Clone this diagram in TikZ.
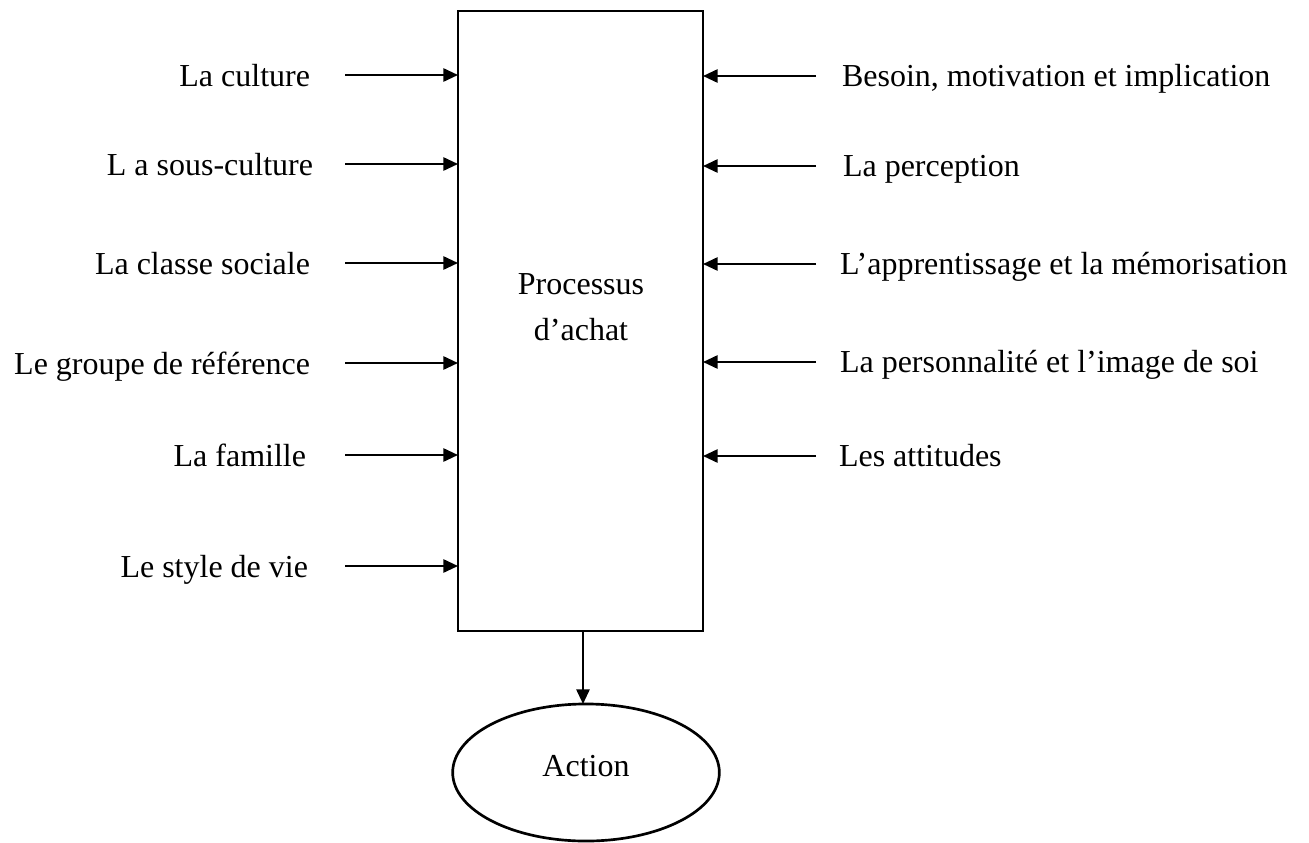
\documentclass[tikz,border=0pt]{standalone}
\usepackage{fontspec}
\setmainfont{Liberation Serif}
\usetikzlibrary{arrows.meta,shapes.geometric}

\begin{document}
\begin{tikzpicture}[x=0.375pt,y=-0.375pt,
  every node/.style={inner sep=0pt,outer sep=0pt,font=\fontsize{12pt}{17.25pt}\selectfont},
  arr/.style={line width=0.7pt,-{Triangle[length=5.5pt,width=5pt]}},
  lefttxt/.style={anchor=base east},
  righttxt/.style={anchor=base west},
  procbox/.style={draw,line width=1pt,rectangle,minimum width=91.9pt,minimum height=232.5pt},
  actell/.style={draw,line width=1pt,ellipse,minimum width=100pt,minimum height=51.4pt,
                 text height=8pt,text depth=5pt}]

  \useasboundingbox (0,0) rectangle (1309,842);

  % central process box and its caption
  \node[procbox] (box) at (580.5,321) {};
  \node[align=center] (proc) at (581,307.5) {Processus\\d’achat};

  % outcome
  \node[actell] (act) at (586,772.5) {Action};
  \coordinate (dtop) at (583,631);
  \draw[arr] (dtop) -- (dtop |- act.north);

  % external influences (left side)
  \foreach \n/\y/\xr/\t in {l1/75/310/La culture,
                             l2/164/313/L a sous-culture,
                             l3/263/310/La classe sociale,
                             l4/363/310/Le groupe de référence,
                             l5/455/306/La famille,
                             l6/566/308/Le style de vie}{
    \node[lefttxt] (\n) at (\xr,\y+11) {\t};
    \coordinate (\n t) at (345,\y);
    \draw[arr] (\n t) -- (\n t -| box.west);
  }

  % internal influences (right side)
  \foreach \n/\y/\xl/\t in {r1/76/842/{Besoin, motivation et implication},
                             r2/166/843/La perception,
                             r3/264/840/L’apprentissage et la mémorisation,
                             r4/362/840/La personnalité et l’image de soi,
                             r5/456/839/Les attitudes}{
    \node[righttxt] (\n) at (\xl,\y+10) {\t};
    \coordinate (\n t) at (816,\y);
    \draw[arr] (\n t) -- (\n t -| box.east);
  }
\end{tikzpicture}
\end{document}
